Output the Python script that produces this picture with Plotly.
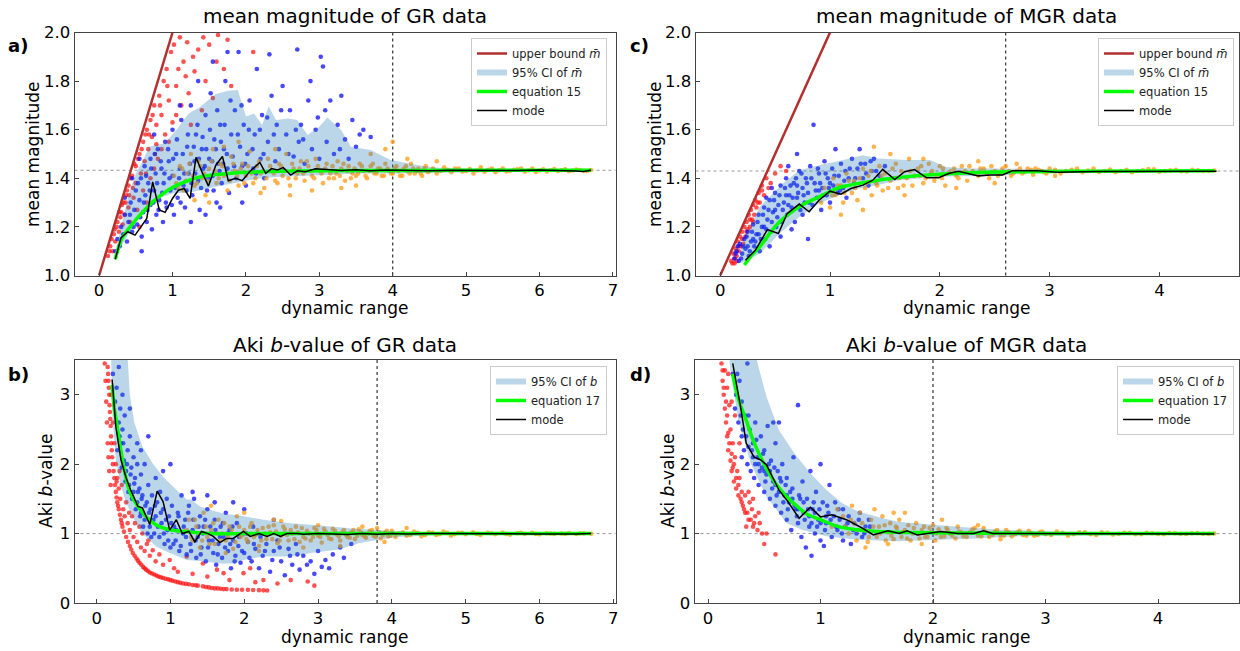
import plotly.graph_objects as go

# ---------------- data: panel a (GR, mean magnitude) ----------------
a_bound_x = [0.0, 1.0]
a_bound_y = [1.0, 2.0]
a_eq_x = [0.22, 0.26, 0.3, 0.38, 0.46, 0.54, 0.62, 0.72, 0.84, 0.97, 1.11, 1.25, 1.38, 1.52, 1.65, 1.8, 1.92, 2.2, 2.46, 3.0, 4.0, 5.0, 6.7]
a_eq_y = [1.067, 1.11, 1.145, 1.183, 1.214, 1.243, 1.269, 1.3, 1.33, 1.357, 1.378, 1.394, 1.406, 1.413, 1.417, 1.421, 1.424, 1.427, 1.429, 1.431, 1.432, 1.433, 1.433]
a_mode_x = [0.22, 0.3, 0.39, 0.49, 0.57, 0.65, 0.73, 0.82, 0.9, 1.0, 1.08, 1.16, 1.24, 1.32, 1.41, 1.49, 1.59, 1.68, 1.76, 1.86, 1.95, 2.05, 2.19, 2.27, 2.35, 2.43, 2.51, 2.61, 2.7, 2.81, 2.95, 3.1, 3.3, 3.5, 3.7, 3.9, 4.1, 4.3, 4.5, 4.8, 5.1, 5.4, 5.7, 6.0, 6.3, 6.5, 6.6, 6.7]
a_mode_y = [1.067, 1.156, 1.18, 1.166, 1.2, 1.235, 1.385, 1.27, 1.26, 1.317, 1.351, 1.358, 1.317, 1.486, 1.42, 1.368, 1.454, 1.49, 1.39, 1.4, 1.39, 1.427, 1.465, 1.42, 1.44, 1.434, 1.444, 1.413, 1.431, 1.427, 1.439, 1.436, 1.432, 1.435, 1.431, 1.434, 1.432, 1.433, 1.431, 1.433, 1.432, 1.433, 1.432, 1.434, 1.433, 1.43, 1.428, 1.433]
a_ci_up_x = [0.22, 0.3, 0.4, 0.5, 0.59, 0.68, 0.76, 0.89, 1.05, 1.22, 1.38, 1.49, 1.59, 1.76, 1.89, 2.0, 2.11, 2.22, 2.31, 2.41, 2.57, 2.7, 2.84, 3.0, 3.11, 3.3, 3.43, 3.7, 3.97, 4.35, 4.62, 5.16, 6.0, 6.7]
a_ci_up_y = [1.09, 1.2, 1.33, 1.42, 1.468, 1.53, 1.536, 1.543, 1.598, 1.667, 1.694, 1.722, 1.747, 1.76, 1.763, 1.654, 1.667, 1.619, 1.697, 1.64, 1.646, 1.64, 1.578, 1.612, 1.65, 1.598, 1.53, 1.516, 1.475, 1.454, 1.443, 1.44, 1.438, 1.437]
a_ci_lo_x = [0.22, 0.3, 0.46, 0.6, 0.73, 1.0, 1.27, 1.59, 1.92, 2.19, 2.46, 3.0, 3.54, 4.08, 4.62, 5.7, 6.7]
a_ci_lo_y = [1.063, 1.12, 1.2, 1.27, 1.31, 1.337, 1.344, 1.365, 1.385, 1.4, 1.406, 1.413, 1.42, 1.42, 1.423, 1.427, 1.43]
a_red = [(0.12,1.08),(0.15,1.12),(0.18,1.10),(0.2,1.17),(0.22,1.14),(0.25,1.22),(0.27,1.18),(0.3,1.26),(0.32,1.21),(0.33,1.30),(0.35,1.25),(0.37,1.33),(0.4,1.28),(0.4,1.37),(0.42,1.22),(0.45,1.41),(0.47,1.32),(0.5,1.45),(0.5,1.38),(0.52,1.27),(0.55,1.50),(0.57,1.42),(0.6,1.55),(0.6,1.35),(0.62,1.47),(0.65,1.60),(0.67,1.52),(0.7,1.64),(0.7,1.40),(0.72,1.57),(0.75,1.70),(0.78,1.62),(0.8,1.48),(0.82,1.74),(0.85,1.66),(0.88,1.80),(0.9,1.58),(0.92,1.85),(0.95,1.72),(0.98,1.92),(1.0,1.63),(1.02,1.95),(1.05,1.78),(1.1,1.98),(1.12,1.70),(1.15,1.88),(1.2,1.96),(1.22,1.75),(1.3,1.84),(1.35,1.93),(1.4,1.68),(1.45,1.80),(1.5,1.95),(1.55,1.73),(1.6,1.88),(1.62,1.99),(1.7,1.85),(1.75,1.97),(1.8,1.78),(2.1,1.92),(0.55,1.2),(0.65,1.3),(0.75,1.44),(0.85,1.52),(0.28,1.26),(0.38,1.35),(0.48,1.46),(0.58,1.52),(0.68,1.58),(0.78,1.54),(1.25,1.62),(0.95,1.55),(1.05,1.66),
         (0.14,1.1),(0.17,1.15),(0.21,1.19),(0.24,1.2),(0.29,1.24),(0.31,1.29),(0.36,1.3),(0.41,1.33),(0.43,1.4),(0.46,1.36),(0.53,1.48),(0.63,1.58),(0.73,1.66),(0.83,1.7),(0.93,1.78),(1.08,1.85),(1.18,1.82),(1.28,1.9),(1.42,1.98),(0.64,1.42),(0.76,1.5)]
a_blue = [(0.22,1.10),(0.25,1.15),(0.28,1.12),(0.3,1.20),(0.33,1.17),(0.35,1.25),(0.38,1.14),(0.4,1.22),(0.43,1.30),(0.45,1.18),(0.48,1.27),(0.5,1.35),(0.52,1.21),(0.55,1.31),(0.57,1.40),(0.58,1.16),(0.6,1.26),(0.62,1.45),(0.63,1.33),(0.65,1.22),(0.67,1.38),(0.7,1.29),(0.7,1.48),(0.72,1.19),(0.75,1.35),(0.77,1.42),(0.78,1.25),(0.8,1.52),(0.82,1.31),(0.85,1.44),(0.87,1.22),(0.88,1.38),(0.9,1.55),(0.92,1.28),(0.95,1.47),(0.97,1.35),(1.0,1.41),(1.0,1.60),(1.02,1.25),(1.05,1.50),(1.07,1.32),(1.1,1.44),(1.12,1.64),(1.15,1.37),(1.17,1.28),(1.2,1.53),(1.22,1.42),(1.25,1.70),(1.27,1.33),(1.3,1.47),(1.32,1.58),(1.35,1.39),(1.37,1.27),(1.4,1.52),(1.42,1.44),(1.45,1.66),(1.47,1.35),(1.5,1.48),(1.52,1.75),(1.55,1.41),(1.57,1.56),(1.6,1.30),(1.62,1.46),(1.65,1.62),(1.67,1.38),(1.7,1.52),(1.72,1.80),(1.75,1.44),(1.77,1.34),(1.8,1.58),(1.82,1.49),(1.85,1.68),(1.87,1.40),(1.9,1.92),(1.92,1.53),(1.95,1.45),(1.97,1.62),(2.0,1.37),(2.02,1.50),(2.05,1.72),(2.1,1.44),(2.12,1.58),(2.15,1.85),(2.2,1.48),(2.22,1.66),(2.25,1.40),(2.3,1.55),(2.32,1.91),(2.35,1.74),(2.4,1.47),(2.42,1.62),(2.45,1.52),(2.5,1.78),(2.52,1.43),(2.55,1.58),(2.6,1.68),(2.65,1.49),(2.7,1.93),(2.72,1.55),(2.75,1.62),(2.8,1.46),(2.85,1.72),(2.9,1.52),(2.95,1.60),(3.0,1.48),(3.02,1.90),(3.05,1.86),(3.08,1.68),(3.1,1.55),(3.15,1.72),(3.2,1.50),(3.25,1.62),(3.3,1.74),(3.35,1.56),(3.4,1.48),(3.45,1.64),(3.5,1.53),(3.6,1.60),(3.7,1.57),(1.35,1.80),(1.55,1.88),(1.75,1.92),(0.45,1.40),(0.55,1.48),(0.35,1.32),(1.1,1.70),(0.75,1.58),(1.95,1.30),(1.25,1.22),(1.45,1.25),(1.65,1.28),(0.58,1.10),
          (0.42,1.25),(0.47,1.2),(0.53,1.38),(0.56,1.24),(0.61,1.3),(0.64,1.41),(0.66,1.27),(0.69,1.35),(0.71,1.44),(0.74,1.3),(0.76,1.5),(0.79,1.38),(0.81,1.27),(0.84,1.47),(0.86,1.34),(0.89,1.42),(0.91,1.3),(0.94,1.52),(0.96,1.4),(0.99,1.29),(1.01,1.48),(1.04,1.36),(1.06,1.56),(1.09,1.4),(1.11,1.3),(1.14,1.5),(1.16,1.42),(1.19,1.35),(1.21,1.58),(1.24,1.46),(1.26,1.38),(1.29,1.53),(1.31,1.42),(1.34,1.62),(1.36,1.48),(1.39,1.36),(1.41,1.57),(1.44,1.45),(1.46,1.52),(1.49,1.4),(1.51,1.6),(1.54,1.47),(1.56,1.35),(1.59,1.52),(1.61,1.68),(1.64,1.43),(1.66,1.55),(1.69,1.46),(1.71,1.62),(1.74,1.5),(1.79,1.72),(1.84,1.45),(1.89,1.58),(1.94,1.7),(1.99,1.46),(2.04,1.6),(2.09,1.52),(2.14,1.42),(2.19,1.6),(2.24,1.5),(2.29,1.65),(2.38,1.58),(2.48,1.68),(2.58,1.5),(2.68,1.6),(2.78,1.56),(2.88,1.8),(2.98,1.65),(3.28,1.52),(3.55,1.58)]
a_orange = [(1.05,1.38),(1.1,1.45),(1.15,1.35),(1.2,1.42),(1.25,1.50),(1.3,1.37),(1.35,1.47),(1.4,1.40),(1.45,1.33),(1.5,1.44),(1.55,1.52),(1.6,1.38),(1.65,1.46),(1.7,1.41),(1.75,1.35),(1.8,1.49),(1.85,1.43),(1.9,1.37),(1.95,1.46),(2.0,1.41),(2.05,1.51),(2.1,1.38),(2.15,1.45),(2.2,1.42),(2.25,1.36),(2.3,1.48),(2.35,1.43),(2.4,1.39),(2.45,1.46),(2.5,1.41),(2.55,1.50),(2.6,1.37),(2.65,1.44),(2.7,1.42),(2.75,1.47),(2.8,1.39),(2.85,1.45),(2.9,1.41),(2.95,1.48),(3.0,1.43),(3.05,1.38),(3.1,1.46),(3.15,1.42),(3.2,1.40),(3.25,1.47),(3.3,1.44),(3.35,1.39),(3.4,1.45),(3.45,1.42),(3.5,1.41),(3.55,1.46),(3.6,1.43),(3.65,1.40),(3.7,1.45),(3.75,1.42),(3.8,1.44),(3.85,1.41),(3.9,1.46),(3.95,1.43),(4.0,1.55),(4.0,1.42),(4.05,1.45),(4.1,1.41),(4.15,1.44),(4.2,1.43),(4.25,1.46),(4.3,1.42),(4.35,1.44),(4.4,1.41),(4.45,1.45),(4.5,1.43),(4.6,1.42),(4.7,1.445),(4.8,1.425),(4.9,1.44),(5.0,1.43),(5.1,1.42),(5.2,1.445),(5.3,1.435),(5.4,1.425),(5.5,1.44),(5.6,1.43),(5.7,1.437),(5.8,1.427),(5.9,1.44),(6.0,1.432),(6.1,1.428),(6.2,1.438),(6.3,1.433),(6.4,1.429),(6.5,1.436),(6.6,1.431),(6.7,1.434),(1.7,1.53),(2.2,1.34),(2.6,1.33),(3.3,1.36),(3.7,1.50),(3.9,1.52),(1.3,1.31),(1.9,1.55),(4.2,1.48),(4.6,1.47),(2.9,1.35),(3.5,1.37),(2.4,1.52),(1.5,1.30),
            (1.02,1.41),(1.08,1.36),(1.13,1.44),(1.18,1.39),(1.23,1.46),(1.28,1.41),(1.33,1.38),(1.38,1.45),(1.43,1.42),(1.48,1.39),(1.53,1.47),(1.58,1.43),(1.63,1.40),(1.68,1.45),(1.73,1.42),(1.78,1.39),(1.83,1.46),(1.88,1.41),(1.93,1.44),(1.98,1.38),(2.03,1.45),(2.08,1.42),(2.13,1.40),(2.18,1.47),(2.23,1.43),(2.28,1.40),(2.33,1.45),(2.38,1.42),(2.43,1.38),(2.48,1.45),(2.53,1.43),(2.58,1.40),(2.63,1.46),(2.68,1.40),(2.73,1.44),(2.78,1.42),(2.83,1.47),(2.88,1.43),(2.93,1.40),(2.98,1.45),(3.03,1.42),(3.08,1.44),(3.13,1.40),(3.18,1.45),(3.23,1.42),(3.28,1.41),(3.33,1.46),(3.38,1.43),(3.43,1.40),(3.48,1.44),(3.53,1.42),(3.58,1.45),(3.63,1.41),(3.68,1.43),(3.73,1.46),(3.78,1.42),(3.83,1.44),(3.88,1.41),(3.93,1.44),(3.98,1.42),(4.03,1.44),(4.08,1.43),(4.13,1.41),(4.18,1.45),(4.23,1.42),(4.28,1.44),(4.33,1.43),(4.38,1.42),(4.43,1.44),(4.48,1.425),(4.55,1.44),(4.65,1.43),(4.75,1.435),(4.85,1.44),(4.95,1.428),(5.05,1.438),(5.15,1.432),(5.25,1.427),(5.35,1.44),(5.45,1.433),(5.55,1.428),(5.65,1.435),(5.75,1.44),(5.85,1.432),(5.95,1.426),(6.05,1.437),(6.15,1.433),(6.25,1.43),(6.35,1.437),(6.45,1.432),(6.55,1.434),(6.65,1.43)]

# ---------------- data: panel b (GR, Aki b-value) ----------------
b_eq_x = [0.21, 0.24, 0.28, 0.35, 0.44, 0.56, 0.69, 0.85, 1.08, 1.3, 1.54, 2.0, 3.0, 4.0, 5.0, 6.7]
b_eq_y = [3.14, 2.8, 2.54, 2.06, 1.63, 1.39, 1.22, 1.1, 1.04, 1.02, 1.0, 1.0, 1.0, 1.0, 1.0, 1.0]
b_mode_x = [0.21, 0.26, 0.33, 0.4, 0.46, 0.56, 0.62, 0.72, 0.82, 0.9, 0.99, 1.08, 1.16, 1.25, 1.33, 1.42, 1.51, 1.58, 1.67, 1.76, 1.85, 1.99, 2.08, 2.2, 2.31, 2.4, 2.49, 2.58, 2.72, 2.8, 3.0, 3.2, 3.4, 3.6, 3.8, 4.0, 4.2, 4.5, 5.0, 5.5, 6.0, 6.5, 6.7]
b_mode_y = [3.22, 2.54, 2.06, 1.8, 1.63, 1.39, 1.37, 1.13, 1.61, 1.46, 1.05, 1.2, 1.0, 1.03, 0.88, 1.03, 1.0, 0.96, 0.87, 0.93, 0.93, 1.03, 0.96, 1.0, 0.96, 1.0, 0.96, 1.0, 1.0, 0.99, 1.0, 0.99, 0.985, 1.0, 0.99, 1.0, 0.995, 1.0, 0.995, 1.0, 0.995, 0.995, 1.0]
b_ci_up_x = [0.19, 0.4, 0.45, 0.51, 0.62, 0.76, 0.9, 1.03, 1.13, 1.22, 1.28, 1.4, 1.54, 1.72, 1.99, 2.26, 2.63, 2.99, 3.5, 4.0, 4.5, 5.0, 6.7]
b_ci_up_y = [3.9, 3.9, 3.0, 2.6, 2.25, 2.01, 1.82, 1.68, 1.58, 1.49, 1.49, 1.39, 1.34, 1.29, 1.25, 1.2, 1.15, 1.12, 1.07, 1.04, 1.02, 1.01, 1.005]
b_ci_lo_x = [0.19, 0.21, 0.26, 0.33, 0.4, 0.51, 0.62, 0.81, 0.99, 1.22, 1.44, 1.67, 1.85, 1.99, 2.26, 2.63, 2.9, 3.28, 3.55, 3.82, 4.09, 4.63, 6.7]
b_ci_lo_y = [3.9, 2.78, 2.06, 1.68, 1.44, 1.2, 1.0, 0.81, 0.72, 0.62, 0.6, 0.57, 0.57, 0.62, 0.67, 0.67, 0.72, 0.77, 0.86, 0.91, 0.95, 0.98, 0.995]
b_red = [(0.15,3.4),(0.16,3.2),(0.17,3.0),(0.18,2.75),(0.19,2.55),(0.2,2.3),(0.21,2.1),(0.23,1.9),(0.24,1.8),(0.26,1.6),(0.28,1.45),(0.3,1.35),(0.33,1.2),(0.35,1.1),(0.4,0.95),(0.45,0.82),(0.49,0.72),(0.54,0.64),(0.58,0.58),(0.63,0.52),(0.67,0.48),(0.72,0.44),(0.78,0.41),(0.84,0.38),(0.9,0.36),(0.97,0.34),(1.03,0.32),(1.1,0.3),(1.17,0.28),(1.25,0.27),(1.3,0.26),(1.37,0.25),(1.44,0.24),(1.52,0.225),(1.6,0.21),(1.68,0.205),(1.76,0.2),(1.9,0.19),(2.05,0.19),(2.2,0.185),(2.31,0.18),(0.11,3.45),(0.12,3.2),(0.13,2.9),(0.14,2.6),(0.15,2.3),(0.16,2.1),(0.17,1.9),(0.19,1.7),(0.2,3.0),(0.22,2.6),(0.24,2.3),(0.26,2.0),(0.28,1.8),(0.3,1.65),(0.32,1.5),(0.34,1.7),(0.36,1.35),(0.38,1.25),(0.4,1.45),(0.42,1.15),(0.45,1.05),(0.48,1.25),(0.5,0.95),(0.55,0.88),(0.58,1.1),(0.6,0.8),(0.65,0.75),(0.7,0.9),(0.72,0.68),(0.76,0.76),(0.8,0.6),(0.85,0.7),(0.9,0.55),(0.99,0.62),(1.05,0.5),(1.1,0.45),(1.22,0.67),(1.3,0.42),(1.44,0.57),(1.5,0.38),(1.63,0.48),(1.72,0.43),(1.8,0.33),(1.99,0.43),(2.08,0.5),(2.15,0.3),(2.26,0.33),(2.45,0.28),(2.63,0.33),(2.86,0.31),(2.95,0.25),(0.27,1.75),(0.31,1.9),(0.44,1.3),(0.52,1.15),(0.62,1.0),(0.68,0.85),
         (0.155,3.3),(0.165,3.1),(0.175,2.85),(0.185,2.65),(0.195,2.4),(0.205,2.2),(0.22,2.0),(0.25,1.7),(0.27,1.52),(0.29,1.4),(0.315,1.27),(0.34,1.15),(0.37,1.03),(0.425,0.88),(0.47,0.77),(0.515,0.68),(0.56,0.61),(0.605,0.55),(0.65,0.5),(0.695,0.46),(0.75,0.425),(0.81,0.395),(0.87,0.37),(0.935,0.35),(1.0,0.33),(1.065,0.31),(1.135,0.29),(1.21,0.275),(1.34,0.255),(1.48,0.23),(1.56,0.215),(1.64,0.21),(1.72,0.2),(1.83,0.195),(1.97,0.19),(2.12,0.188),(2.26,0.182)]
b_blue = [(0.22,3.3),(0.25,2.9),(0.27,3.1),(0.3,2.6),(0.32,2.8),(0.33,2.3),(0.35,2.5),(0.37,2.05),(0.38,2.7),(0.4,1.9),(0.42,2.2),(0.44,1.7),(0.45,2.4),(0.47,1.95),(0.5,1.6),(0.5,2.1),(0.52,1.8),(0.55,1.45),(0.55,2.0),(0.58,1.65),(0.6,1.3),(0.6,1.85),(0.62,1.55),(0.65,1.2),(0.65,2.0),(0.68,1.45),(0.7,1.7),(0.72,1.1),(0.73,1.35),(0.75,1.55),(0.78,1.0),(0.8,1.25),(0.8,1.8),(0.82,1.45),(0.85,0.95),(0.86,1.6),(0.88,1.15),(0.9,1.35),(0.92,0.85),(0.95,1.5),(0.96,1.05),(0.98,1.25),(1.0,2.0),(1.0,0.8),(1.02,1.4),(1.05,1.1),(1.07,0.9),(1.1,1.3),(1.12,0.75),(1.15,1.55),(1.17,1.0),(1.2,1.2),(1.22,0.7),(1.25,1.4),(1.27,0.85),(1.3,1.05),(1.32,1.5),(1.35,0.65),(1.37,0.95),(1.4,1.25),(1.42,0.8),(1.45,1.1),(1.48,0.6),(1.5,1.35),(1.52,0.9),(1.55,1.0),(1.58,0.72),(1.6,1.2),(1.62,0.55),(1.65,0.85),(1.68,1.1),(1.7,0.65),(1.72,0.95),(1.75,1.3),(1.78,0.75),(1.8,1.05),(1.82,0.5),(1.85,0.9),(1.88,0.68),(1.9,1.15),(1.92,0.82),(1.95,0.58),(1.98,1.0),(2.0,0.72),(2.05,0.88),(2.1,0.6),(2.12,1.1),(2.15,0.78),(2.2,0.5),(2.22,0.95),(2.25,0.68),(2.3,0.85),(2.35,0.45),(2.4,0.75),(2.45,0.9),(2.5,0.6),(2.55,0.4),(2.6,0.78),(2.65,0.55),(2.7,0.85),(2.75,0.48),(2.8,0.68),(2.9,0.6),(2.95,0.42),(3.0,0.75),(3.05,0.52),(3.1,0.62),(3.2,0.7),(3.3,0.8),(3.45,0.85),(1.3,1.6),(1.5,1.55),(1.6,1.45),(0.9,1.9),(0.7,2.4),(0.45,2.8),(0.35,3.0),(0.55,2.3),(0.3,3.4),(2.0,1.35),(1.85,1.45),(2.4,1.2),(0.6,2.2),
          (0.28,2.2),(0.31,2.4),(0.34,1.95),(0.36,2.3),(0.39,1.75),(0.41,2.0),(0.43,1.6),(0.46,1.85),(0.48,1.5),(0.51,1.72),(0.53,1.35),(0.56,1.6),(0.59,1.25),(0.61,1.5),(0.63,1.1),(0.66,1.4),(0.69,1.0),(0.71,1.3),(0.74,0.95),(0.77,1.2),(0.79,1.4),(0.83,1.1),(0.87,1.3),(0.91,1.0),(0.94,1.2),(0.97,0.9),(1.01,1.15),(1.04,0.85),(1.08,1.05),(1.11,1.25),(1.14,0.82),(1.18,1.1),(1.21,0.95),(1.24,1.3),(1.28,0.75),(1.31,1.2),(1.34,0.9),(1.38,1.1),(1.41,0.7),(1.44,1.0),(1.47,1.2),(1.51,0.8),(1.54,1.1),(1.57,0.9),(1.61,1.05),(1.64,0.7),(1.67,0.95),(1.71,1.15),(1.74,0.8),(1.77,1.0),(1.81,0.85),(1.84,1.1),(1.87,0.6),(1.93,0.95),(1.97,0.75),(2.03,1.0),(2.07,0.65),(2.13,0.85),(2.18,1.0),(2.28,0.75),(2.38,0.62),(2.48,0.8),(2.62,0.68),(2.72,0.7),(2.85,0.55),(3.15,0.5),(3.35,0.65)]
b_orange = [(1.25,1.2),(1.3,0.9),(1.35,1.1),(1.4,0.8),(1.45,1.3),(1.5,0.95),(1.55,1.05),(1.6,0.85),(1.65,1.2),(1.7,1.0),(1.75,0.9),(1.8,1.1),(1.85,0.78),(1.9,1.25),(1.95,0.95),(2.0,1.05),(2.05,0.88),(2.1,1.15),(2.15,0.98),(2.2,0.82),(2.25,1.08),(2.3,0.92),(2.35,1.02),(2.4,1.12),(2.45,0.86),(2.5,0.97),(2.55,1.06),(2.6,0.9),(2.65,1.0),(2.7,1.1),(2.75,0.88),(2.8,0.95),(2.85,1.04),(2.9,0.9),(2.95,1.08),(3.0,0.97),(3.05,0.87),(3.1,1.03),(3.15,0.93),(3.2,1.07),(3.25,0.99),(3.3,0.9),(3.35,1.05),(3.4,0.95),(3.45,1.02),(3.5,0.92),(3.55,1.06),(3.6,0.98),(3.65,0.94),(3.7,1.04),(3.75,0.97),(3.8,1.08),(3.85,0.93),(3.9,1.01),(3.95,0.96),(4.0,1.04),(4.05,0.95),(4.1,1.0),(4.2,0.97),(4.3,1.03),(4.4,0.96),(4.5,1.02),(4.6,0.98),(4.7,1.03),(4.8,0.97),(4.9,1.01),(5.0,0.99),(5.1,1.02),(5.2,0.98),(5.3,1.01),(5.4,0.99),(5.5,1.015),(5.6,0.985),(5.7,1.005),(5.8,0.995),(5.9,1.01),(6.0,0.99),(6.1,1.005),(6.2,0.995),(6.3,1.0),(6.4,1.008),(6.5,0.993),(6.6,1.003),(6.7,0.998),(1.55,1.4),(2.0,1.3),(2.5,1.18),(3.0,1.12),(3.6,1.1),(4.2,1.08),(2.2,0.75),(2.8,0.8),(3.3,0.82),(3.9,0.88),(1.75,0.72),(2.4,1.2),
            (1.22,1.05),(1.28,0.95),(1.33,1.2),(1.38,1.0),(1.43,0.9),(1.48,1.1),(1.53,0.85),(1.58,1.15),(1.63,1.0),(1.68,0.9),(1.73,1.15),(1.78,0.95),(1.83,1.05),(1.88,0.88),(1.93,1.1),(1.98,0.98),(2.03,0.92),(2.08,1.1),(2.13,0.95),(2.18,1.05),(2.23,0.9),(2.28,1.0),(2.33,1.1),(2.38,0.92),(2.43,1.03),(2.48,0.9),(2.53,1.1),(2.58,0.98),(2.63,1.05),(2.68,0.92),(2.73,1.02),(2.78,1.08),(2.83,0.93),(2.88,1.0),(2.93,0.95),(2.98,1.05),(3.03,0.95),(3.08,1.07),(3.13,0.98),(3.18,0.92),(3.23,1.04),(3.28,0.96),(3.33,1.02),(3.38,0.98),(3.43,0.94),(3.48,1.05),(3.53,0.97),(3.58,1.02),(3.63,0.96),(3.68,1.0),(3.73,1.05),(3.78,0.95),(3.83,1.02),(3.88,0.98),(3.93,1.04),(3.98,0.97),(4.15,1.02),(4.25,0.98),(4.35,1.01),(4.45,0.98),(4.55,1.01),(4.65,0.99),(4.75,1.01),(4.85,0.99),(4.95,1.01),(5.15,0.995),(5.35,1.005),(5.55,0.995),(5.75,1.01),(5.95,0.995),(6.15,1.0),(6.35,0.995),(6.55,1.005)]

# ---------------- data: panel c (MGR, mean magnitude) ----------------
c_bound_x = [0.0, 1.0]
c_bound_y = [1.0, 2.0]
c_eq_x = [0.22, 0.28, 0.36, 0.45, 0.54, 0.63, 0.72, 0.81, 0.9, 1.0, 1.08, 1.17, 1.26, 1.44, 1.62, 1.8, 1.99, 2.35, 2.71, 3.2, 4.5]
c_eq_y = [1.043, 1.08, 1.118, 1.172, 1.221, 1.255, 1.283, 1.305, 1.324, 1.345, 1.361, 1.371, 1.379, 1.392, 1.403, 1.411, 1.417, 1.424, 1.427, 1.429, 1.431]
c_mode_x = [0.23, 0.32, 0.43, 0.53, 0.61, 0.72, 0.81, 0.9, 1.0, 1.1, 1.19, 1.3, 1.39, 1.48, 1.59, 1.68, 1.77, 1.88, 1.99, 2.08, 2.17, 2.24, 2.35, 2.46, 2.57, 2.66, 2.89, 3.07, 3.43, 4.52]
c_mode_y = [1.063, 1.104, 1.189, 1.173, 1.255, 1.294, 1.262, 1.31, 1.347, 1.335, 1.358, 1.372, 1.392, 1.437, 1.395, 1.427, 1.436, 1.402, 1.402, 1.42, 1.429, 1.422, 1.41, 1.414, 1.414, 1.431, 1.431, 1.425, 1.428, 1.429]
c_ci_up_x = [0.19, 0.36, 0.57, 0.72, 0.9, 1.12, 1.3, 1.44, 1.7, 1.91, 2.06, 2.28, 2.57, 2.89, 3.43, 4.52]
c_ci_up_y = [1.118, 1.283, 1.379, 1.433, 1.454, 1.475, 1.495, 1.481, 1.475, 1.475, 1.447, 1.44, 1.44, 1.438, 1.433, 1.432]
c_ci_lo_x = [0.19, 0.36, 0.54, 0.72, 0.9, 1.08, 1.26, 1.44, 1.62, 1.99, 2.35, 2.57, 2.71, 3.07, 3.8, 4.52]
c_ci_lo_y = [1.05, 1.09, 1.173, 1.241, 1.296, 1.33, 1.358, 1.372, 1.392, 1.406, 1.409, 1.409, 1.42, 1.423, 1.425, 1.428]
c_red = [(0.1,1.06),(0.12,1.09),(0.13,1.05),(0.14,1.11),(0.15,1.08),(0.16,1.14),(0.17,1.1),(0.18,1.16),(0.19,1.12),(0.2,1.18),(0.21,1.13),(0.22,1.2),(0.23,1.16),(0.24,1.22),(0.25,1.19),(0.26,1.25),(0.27,1.2),(0.28,1.27),(0.29,1.23),(0.3,1.29),(0.31,1.25),(0.32,1.31),(0.33,1.28),(0.35,1.34),(0.36,1.3),(0.38,1.37),(0.4,1.33),(0.42,1.4),(0.44,1.36),(0.46,1.38),(0.5,1.42),(0.55,1.45),(0.6,1.43),(0.13,1.07),(0.17,1.12),(0.2,1.15),(0.24,1.18),(0.27,1.23),(0.3,1.22),(0.11,1.05),(0.15,1.06),(0.34,1.3),(0.38,1.35)]
c_blue = [(0.13,1.07),(0.15,1.1),(0.17,1.06),(0.18,1.13),(0.2,1.09),(0.22,1.15),(0.23,1.11),(0.25,1.18),(0.26,1.08),(0.28,1.14),(0.3,1.21),(0.31,1.12),(0.33,1.17),(0.35,1.25),(0.36,1.1),(0.38,1.2),(0.4,1.28),(0.41,1.15),(0.43,1.23),(0.45,1.31),(0.46,1.18),(0.48,1.26),(0.5,1.34),(0.51,1.2),(0.53,1.29),(0.55,1.37),(0.56,1.22),(0.58,1.3),(0.6,1.4),(0.61,1.25),(0.63,1.33),(0.65,1.28),(0.67,1.38),(0.68,1.22),(0.7,1.32),(0.72,1.43),(0.73,1.27),(0.75,1.36),(0.77,1.3),(0.78,1.4),(0.8,1.15),(0.8,1.34),(0.82,1.45),(0.84,1.29),(0.85,1.62),(0.86,1.38),(0.88,1.32),(0.9,1.42),(0.92,1.27),(0.93,1.36),(0.95,1.47),(0.97,1.33),(0.98,1.4),(1.0,1.3),(1.02,1.44),(1.03,1.37),(1.05,1.52),(1.07,1.34),(1.08,1.41),(1.1,1.46),(1.12,1.36),(1.14,1.43),(1.15,1.32),(1.17,1.4),(1.2,1.48),(1.22,1.38),(1.25,1.44),(1.27,1.52),(1.3,1.4),(1.32,1.46),(1.35,1.37),(1.38,1.43),(1.4,1.48),(1.45,1.41),(1.5,1.45),(0.3,1.15),(0.4,1.2),(0.5,1.27),(0.6,1.33),(0.7,1.37),(0.55,1.16),(0.65,1.19),(0.45,1.12),(0.35,1.17),(0.25,1.12),(0.75,1.25),(0.9,1.35),(1.0,1.38),(0.62,1.45),(0.7,1.5),(0.47,1.36),(0.42,1.32),
          (0.14,1.09),(0.16,1.12),(0.19,1.07),(0.21,1.12),(0.24,1.16),(0.27,1.1),(0.29,1.18),(0.32,1.14),(0.34,1.22),(0.37,1.15),(0.39,1.25),(0.42,1.19),(0.44,1.27),(0.47,1.22),(0.49,1.31),(0.52,1.24),(0.54,1.33),(0.57,1.27),(0.59,1.36),(0.62,1.29),(0.64,1.37),(0.66,1.32),(0.69,1.4),(0.71,1.34),(0.74,1.42),(0.76,1.33),(0.79,1.38),(0.81,1.3),(0.83,1.4),(0.87,1.35),(0.89,1.44),(0.91,1.38),(0.94,1.33),(0.96,1.42),(0.99,1.36),(1.04,1.41),(1.09,1.35),(1.13,1.39),(1.18,1.44),(1.23,1.4),(1.28,1.46),(1.33,1.42),(1.37,1.47),(1.42,1.43)]
c_orange = [(0.92,1.3),(0.95,1.36),(1.0,1.28),(1.03,1.4),(1.05,1.33),(1.1,1.37),(1.12,1.3),(1.15,1.42),(1.2,1.34),(1.22,1.39),(1.25,1.31),(1.3,1.44),(1.32,1.36),(1.35,1.41),(1.38,1.33),(1.4,1.53),(1.42,1.38),(1.45,1.45),(1.48,1.35),(1.5,1.42),(1.55,1.39),(1.6,1.46),(1.62,1.36),(1.65,1.43),(1.7,1.4),(1.72,1.48),(1.75,1.37),(1.8,1.44),(1.82,1.41),(1.85,1.38),(1.9,1.46),(1.92,1.42),(1.95,1.39),(2.0,1.45),(2.02,1.4),(2.05,1.37),(2.1,1.43),(2.15,1.41),(2.2,1.45),(2.25,1.39),(2.3,1.43),(2.35,1.41),(2.4,1.44),(2.45,1.4),(2.5,1.43),(2.55,1.42),(2.6,1.45),(2.65,1.41),(2.7,1.43),(2.75,1.42),(2.8,1.44),(2.85,1.415),(2.9,1.435),(2.95,1.425),(3.0,1.44),(3.1,1.42),(3.2,1.435),(3.3,1.425),(3.4,1.44),(3.5,1.43),(3.6,1.425),(3.7,1.435),(3.8,1.43),(3.9,1.438),(4.0,1.427),(4.1,1.433),(4.2,1.429),(4.3,1.435),(4.4,1.43),(4.5,1.432),(1.85,1.48),(2.15,1.36),(2.5,1.38),(1.55,1.5),(1.3,1.27),(2.7,1.46),(3.05,1.41),(1.68,1.33),(2.35,1.47),(1.1,1.25),
            (1.02,1.33),(1.07,1.37),(1.13,1.34),(1.17,1.39),(1.23,1.36),(1.27,1.4),(1.33,1.38),(1.37,1.43),(1.43,1.37),(1.47,1.41),(1.53,1.36),(1.57,1.44),(1.63,1.4),(1.67,1.37),(1.73,1.43),(1.77,1.41),(1.83,1.45),(1.87,1.4),(1.93,1.43),(1.97,1.41),(2.03,1.44),(2.07,1.42),(2.13,1.44),(2.17,1.4),(2.23,1.43),(2.27,1.45),(2.33,1.42),(2.37,1.44),(2.43,1.42),(2.47,1.45),(2.53,1.41),(2.57,1.44),(2.63,1.43),(2.67,1.42),(2.73,1.44),(2.77,1.425),(2.83,1.435),(2.87,1.44),(2.93,1.43),(2.97,1.42),(3.05,1.435),(3.15,1.43),(3.25,1.44),(3.35,1.432),(3.45,1.426),(3.55,1.436),(3.65,1.43),(3.75,1.425),(3.85,1.433),(3.95,1.437),(4.05,1.43),(4.15,1.435),(4.25,1.428),(4.35,1.433),(4.45,1.43)]

# ---------------- data: panel d (MGR, Aki b-value) ----------------
d_eq_x = [0.22, 0.26, 0.3, 0.34, 0.4, 0.48, 0.55, 0.62, 0.7, 0.8, 0.87, 1.0, 1.16, 1.3, 1.51, 1.8, 2.2, 3.0, 4.5]
d_eq_y = [3.3, 3.0, 2.8, 2.63, 2.35, 2.06, 1.85, 1.68, 1.53, 1.38, 1.29, 1.2, 1.1, 1.06, 1.03, 1.015, 1.007, 1.002, 1.0]
d_mode_x = [0.22, 0.29, 0.34, 0.41, 0.47, 0.52, 0.63, 0.71, 0.81, 0.91, 1.0, 1.1, 1.23, 1.37, 1.47, 1.6, 1.7, 1.77, 1.86, 2.0, 2.07, 2.22, 2.36, 2.45, 2.53, 2.7, 3.0, 3.2, 3.5, 4.0, 4.5]
d_mode_y = [3.45, 2.82, 2.3, 2.1, 2.06, 1.99, 1.63, 1.46, 1.22, 1.38, 1.24, 1.27, 1.2, 1.08, 0.98, 1.04, 1.0, 1.04, 0.98, 1.02, 1.03, 1.0, 1.0, 1.04, 1.0, 1.0, 1.0, 1.005, 1.0, 1.0, 0.995]
d_ci_up_x = [0.18, 0.4, 0.52, 0.63, 0.77, 0.91, 1.05, 1.19, 1.33, 1.51, 1.69, 1.9, 2.22, 2.57, 3.1, 4.51]
d_ci_up_y = [3.7, 3.7, 2.97, 2.49, 2.15, 1.87, 1.63, 1.44, 1.32, 1.24, 1.17, 1.14, 1.1, 1.06, 1.03, 1.01]
d_ci_lo_x = [0.18, 0.2, 0.27, 0.38, 0.52, 0.7, 0.84, 1.05, 1.33, 1.69, 2.04, 2.39, 2.75, 3.1, 4.51]
d_ci_lo_y = [3.7, 3.35, 2.63, 2.01, 1.53, 1.15, 1.05, 0.96, 0.91, 0.89, 0.91, 0.93, 0.96, 0.97, 0.99]
d_red = [(0.12,3.45),(0.13,3.2),(0.14,3.0),(0.15,3.35),(0.15,2.8),(0.16,2.6),(0.17,3.1),(0.17,2.4),(0.18,2.2),(0.19,2.85),(0.2,2.05),(0.2,2.5),(0.21,1.9),(0.22,2.3),(0.23,1.75),(0.24,2.1),(0.25,1.65),(0.26,1.9),(0.27,1.55),(0.28,1.8),(0.3,1.45),(0.3,1.6),(0.32,1.35),(0.33,1.55),(0.35,1.3),(0.37,1.45),(0.38,1.2),(0.4,1.1),(0.42,1.25),(0.44,1.05),(0.46,1.15),(0.5,0.85),(0.52,1.0),(0.6,0.7),(0.36,1.6),(0.4,1.5),(0.24,2.7),(0.28,2.3),(0.18,3.3),(0.21,2.9),(0.34,1.1),(0.45,1.3),
         (0.13,3.35),(0.14,3.1),(0.16,2.9),(0.17,2.7),(0.18,2.45),(0.19,2.3),(0.21,2.15),(0.22,1.95),(0.23,2.0),(0.25,1.8),(0.27,1.7),(0.29,1.5),(0.31,1.4),(0.33,1.3),(0.36,1.2),(0.39,1.35),(0.41,1.15),(0.48,1.0)]
d_blue = [(0.22,3.3),(0.25,3.0),(0.27,2.6),(0.28,3.2),(0.3,2.4),(0.3,2.9),(0.32,2.2),(0.33,2.7),(0.35,2.0),(0.35,3.45),(0.37,2.5),(0.38,1.9),(0.4,2.3),(0.41,1.8),(0.42,2.6),(0.44,2.1),(0.45,1.7),(0.47,2.4),(0.48,1.95),(0.5,1.6),(0.5,2.2),(0.52,1.85),(0.53,2.55),(0.55,1.5),(0.56,2.05),(0.58,1.75),(0.6,1.4),(0.6,2.3),(0.62,1.9),(0.63,1.6),(0.65,1.3),(0.66,2.0),(0.68,1.55),(0.7,1.2),(0.7,1.8),(0.72,1.45),(0.74,1.05),(0.75,1.65),(0.76,2.1),(0.78,1.35),(0.8,1.15),(0.8,2.85),(0.81,1.55),(0.83,0.95),(0.84,1.75),(0.85,1.3),(0.87,0.8),(0.88,1.5),(0.9,1.1),(0.91,1.9),(0.92,0.68),(0.93,1.35),(0.95,1.0),(0.96,1.6),(0.98,1.2),(1.0,0.9),(1.0,2.0),(1.02,1.45),(1.03,0.82),(1.05,1.15),(1.07,1.3),(1.08,1.7),(1.1,0.95),(1.12,1.25),(1.13,1.45),(1.15,1.05),(1.17,1.2),(1.2,0.9),(1.2,1.35),(1.22,1.1),(1.25,1.25),(1.27,0.85),(1.3,1.15),(1.32,1.0),(1.35,1.3),(1.37,0.95),(1.4,1.1),(1.43,1.2),(0.45,2.0),(0.55,1.9),(0.65,1.75),(0.75,1.5),(0.85,1.45),(0.95,1.3),(1.05,1.25),(0.4,2.1),(0.5,1.9),(0.6,1.7),(0.7,1.55),(0.8,1.35),(0.9,1.25),(1.0,1.15),(0.58,2.6),(0.63,2.6),(0.3,2.1),(0.36,2.25),
          (0.24,2.8),(0.26,3.3),(0.29,2.7),(0.31,2.5),(0.34,2.4),(0.36,2.7),(0.39,2.2),(0.42,2.0),(0.43,2.35),(0.46,1.9),(0.49,2.15),(0.51,1.75),(0.54,2.0),(0.57,1.65),(0.59,1.95),(0.61,1.55),(0.64,1.8),(0.67,1.45),(0.69,1.7),(0.71,1.35),(0.73,1.6),(0.77,1.4),(0.79,1.25),(0.82,1.5),(0.86,1.2),(0.89,1.35),(0.92,1.15),(0.94,1.45),(0.97,1.1),(0.99,1.35),(1.04,1.05),(1.06,1.4),(1.09,1.2),(1.14,1.1),(1.16,1.35),(1.19,1.0),(1.24,1.15),(1.29,1.05),(1.34,1.2),(1.39,1.0),(1.44,1.1)]
d_orange = [(1.2,1.25),(1.25,1.0),(1.3,1.15),(1.32,0.9),(1.35,1.3),(1.4,1.05),(1.42,0.88),(1.45,1.2),(1.5,0.95),(1.52,1.1),(1.55,1.25),(1.58,0.9),(1.6,1.02),(1.62,1.15),(1.65,0.92),(1.68,1.08),(1.7,1.2),(1.72,0.95),(1.75,1.05),(1.78,1.12),(1.8,0.9),(1.82,1.0),(1.85,1.15),(1.88,0.93),(1.9,1.05),(1.92,1.1),(1.95,0.95),(1.98,1.02),(2.0,1.12),(2.02,0.9),(2.05,1.06),(2.1,0.96),(2.12,1.08),(2.15,1.0),(2.2,0.93),(2.22,1.1),(2.25,1.02),(2.3,0.95),(2.35,1.06),(2.4,0.97),(2.45,1.08),(2.5,0.95),(2.55,1.03),(2.6,0.98),(2.65,1.05),(2.7,0.96),(2.75,1.02),(2.8,0.98),(2.85,1.04),(2.9,0.97),(2.95,1.02),(3.0,0.99),(3.1,1.03),(3.2,0.97),(3.3,1.02),(3.4,0.99),(3.5,1.02),(3.6,0.985),(3.7,1.01),(3.8,0.99),(3.9,1.01),(4.0,0.995),(4.1,1.008),(4.2,0.993),(4.3,1.005),(4.4,0.997),(4.5,1.002),(1.15,1.35),(1.28,1.4),(1.48,1.35),(1.65,1.3),(1.4,0.8),(1.6,0.85),(2.08,1.2),(2.4,1.12),(1.9,0.85),(2.6,0.92),(1.1,1.1),(1.75,1.3),
            (1.22,1.1),(1.27,1.2),(1.33,1.05),(1.37,1.15),(1.43,0.95),(1.47,1.1),(1.53,1.0),(1.57,1.12),(1.63,0.97),(1.67,1.1),(1.73,1.02),(1.77,0.93),(1.83,1.08),(1.87,1.0),(1.93,0.95),(1.97,1.08),(2.03,1.0),(2.07,0.95),(2.13,1.05),(2.17,0.97),(2.23,1.03),(2.27,0.96),(2.33,1.02),(2.37,1.08),(2.43,0.96),(2.47,1.02),(2.53,0.98),(2.57,1.05),(2.63,0.97),(2.67,1.02),(2.73,0.99),(2.77,1.04),(2.83,0.97),(2.87,1.01),(2.93,0.98),(2.97,1.03),(3.05,0.98),(3.15,1.01),(3.25,0.99),(3.35,1.02),(3.45,0.98),(3.55,1.01),(3.65,0.995),(3.75,1.01),(3.85,0.99),(3.95,1.005),(4.05,0.99),(4.15,1.005),(4.25,0.995),(4.35,1.008),(4.45,0.995)]

# reference lines
a_hline, c_hline, b_hline, d_hline = 1.433, 1.43, 1.0, 1.0
a_vline, c_vline, b_vline, d_vline = 4.0, 2.6, 3.8, 2.0

# ---------------- figure ----------------
W, H = 1240, 651
FONT = "DejaVu Sans"
CI_FILL = "rgba(31,119,180,0.3)"


def P(x, y):
    return x / W, 1 - y / H


fig = go.Figure()


def add_panel(n, legend, red, blue, orange, up_x, up_y, lo_x, lo_y, eq_x, eq_y, mode_x, mode_y,
              bound=None, ci_name="", eq_name=""):
    xa, ya = ("x", "y") if n == 1 else (f"x{n}", f"y{n}")
    for pts, col, op in ((red, "#ff1010", 0.72), (blue, "#0a0aff", 0.75), (orange, "#ffa020", 0.8)):
        xs, ys = zip(*pts)
        fig.add_trace(go.Scatter(x=xs, y=ys, mode="markers", xaxis=xa, yaxis=ya, showlegend=False,
                                 marker=dict(size=4.6, color=col, opacity=op, line=dict(width=0)),
                                 hoverinfo="skip"))
    fig.add_trace(go.Scatter(x=up_x + lo_x[::-1], y=up_y + lo_y[::-1], fill="toself", mode="none",
                             fillcolor=CI_FILL, xaxis=xa, yaxis=ya, name=ci_name, legend=legend,
                             legendrank=2))
    if bound is not None:
        fig.add_trace(go.Scatter(x=bound[0], y=bound[1], mode="lines", xaxis=xa, yaxis=ya,
                                 line=dict(color="#b22f2f", width=2.5), name="upper bound <i>m\u0304</i>",
                                 legend=legend, legendrank=1))
    fig.add_trace(go.Scatter(x=eq_x, y=eq_y, mode="lines", xaxis=xa, yaxis=ya,
                             line=dict(color="#00ff00", width=3.5, shape="spline"), name=eq_name,
                             legend=legend, legendrank=3))
    fig.add_trace(go.Scatter(x=mode_x, y=mode_y, mode="lines", xaxis=xa, yaxis=ya,
                             line=dict(color="black", width=1.5), name="mode", legend=legend, legendrank=4))


add_panel(1, "legend", a_red, a_blue, a_orange, a_ci_up_x, a_ci_up_y, a_ci_lo_x, a_ci_lo_y,
          a_eq_x, a_eq_y, a_mode_x, a_mode_y, bound=(a_bound_x, a_bound_y),
          ci_name="95% CI of <i>m\u0304</i>", eq_name="equation 15")
add_panel(2, "legend2", c_red, c_blue, c_orange, c_ci_up_x, c_ci_up_y, c_ci_lo_x, c_ci_lo_y,
          c_eq_x, c_eq_y, c_mode_x, c_mode_y, bound=(c_bound_x, c_bound_y),
          ci_name="95% CI of <i>m\u0304</i>", eq_name="equation 15")
add_panel(3, "legend3", b_red, b_blue, b_orange, b_ci_up_x, b_ci_up_y, b_ci_lo_x, b_ci_lo_y,
          b_eq_x, b_eq_y, b_mode_x, b_mode_y, ci_name="95% CI of <i>b</i>", eq_name="equation 17")
add_panel(4, "legend4", d_red, d_blue, d_orange, d_ci_up_x, d_ci_up_y, d_ci_lo_x, d_ci_lo_y,
          d_eq_x, d_eq_y, d_mode_x, d_mode_y, ci_name="95% CI of <i>b</i>", eq_name="equation 17")

# plot-area pixel boxes: (left, right, top, bottom)
boxes = {1: (74.5, 615.5, 32.5, 275.5), 2: (695.5, 1239, 32.5, 275.5),
         3: (74.5, 615.5, 360, 603), 4: (694.5, 1239, 360, 603)}
xranges = {1: [-0.335, 7.035], 2: [-0.225, 4.725], 3: [-0.3, 7.03], 4: [-0.12, 4.72]}
yranges = {1: [1.0, 2.0], 2: [1.0, 2.0], 3: [0, 3.5], 4: [0, 3.5]}

axis_common = dict(showline=True, linecolor="#444", linewidth=1, mirror=True, ticks="inside",
                   ticklen=4, tickcolor="#444", showgrid=False, zeroline=False, automargin=False,
                   tickfont=dict(family=FONT, size=16.5, color="black"))
layout = {}
for n, (l, r, t, b) in boxes.items():
    xk = "xaxis" if n == 1 else f"xaxis{n}"
    yk = "yaxis" if n == 1 else f"yaxis{n}"
    xa = "x" if n == 1 else f"x{n}"
    ya = "y" if n == 1 else f"y{n}"
    layout[xk] = dict(axis_common, domain=[l / W, r / W], range=xranges[n], anchor=ya, dtick=1)
    yd = dict(axis_common, domain=[1 - b / H, 1 - t / H], range=yranges[n], anchor=xa)
    if n in (1, 2):
        yd.update(dtick=0.2, tickformat=".1f")
    else:
        yd.update(dtick=1)
    layout[yk] = yd
fig.update_layout(**layout)

# legends
leg_common = dict(bgcolor="rgba(255,255,255,0.85)", bordercolor="#cccccc", borderwidth=1,
                  font=dict(family=FONT, size=11.5, color="#222"), xanchor="right", yanchor="top",
                  tracegroupgap=0, itemwidth=30, traceorder="normal")
for key, (px_, py_) in {"legend": (607, 38), "legend2": (1234, 38),
                        "legend3": (607, 366), "legend4": (1234, 366)}.items():
    lx, ly = P(px_, py_)
    fig.update_layout({key: dict(leg_common, x=lx, y=ly)})

# reference lines
shapes = []
for n, hv, vv in ((1, a_hline, a_vline), (2, c_hline, c_vline), (3, b_hline, b_vline), (4, d_hline, d_vline)):
    xa = "x" if n == 1 else f"x{n}"
    ya = "y" if n == 1 else f"y{n}"
    shapes.append(dict(type="line", xref=f"{xa} domain", yref=ya, x0=0, x1=1, y0=hv, y1=hv,
                       line=dict(color="rgba(140,140,140,0.9)", width=1, dash="dot"), layer="below"))
    shapes.append(dict(type="line", xref=xa, yref=f"{ya} domain", x0=vv, x1=vv, y0=0, y1=1,
                       line=dict(color="#333", width=1.2, dash="dot"), layer="below"))
fig.update_layout(shapes=shapes)

# text annotations
ann = []


def text(px_, py_, s, size, angle=0, bold=False):
    x, y = P(px_, py_)
    ann.append(dict(x=x, y=y, xref="paper", yref="paper", text=f"<b>{s}</b>" if bold else s,
                    showarrow=False, textangle=angle, xanchor="center", yanchor="middle",
                    font=dict(family=FONT, size=size, color="black")))


text(345, 16, "mean magnitude of GR data", 20)
text(967, 16, "mean magnitude of MGR data", 20)
text(345, 345, "Aki <i>b</i>-value of GR data", 20)
text(967, 345, "Aki <i>b</i>-value of MGR data", 20)
for cx, cy in ((345, 308), (967, 308), (345, 637), (967, 637)):
    text(cx, cy, "dynamic range", 17)
text(33, 154, "mean magnitude", 17, angle=-90)
text(655, 154, "mean magnitude", 17, angle=-90)
text(46, 481, "Aki <i>b</i>-value", 17, angle=-90)
text(668, 481, "Aki <i>b</i>-value", 17, angle=-90)
text(18, 46, "a)", 18, bold=True)
text(18, 375, "b)", 18, bold=True)
text(639, 46, "c)", 18, bold=True)
text(640, 375, "d)", 18, bold=True)
fig.update_layout(annotations=ann)

fig.update_layout(width=W, height=H, autosize=False,
                  margin=dict(l=0, r=0, t=0, b=0, pad=0, autoexpand=False),
                  paper_bgcolor="white", plot_bgcolor="white", font=dict(family=FONT))

page_fix = (
    "var h=document.documentElement.style;h.margin='0';h.padding='0';h.overflow='hidden';"
    "var b=document.body.style;b.margin='0';b.padding='0';b.overflow='hidden';"
    "var g=document.getElementsByClassName('plotly-graph-div')[0];"
    "if(g){g.style.position='absolute';g.style.left='0px';g.style.top='0px';}"
)
fig.write_html("out.html", config={"displayModeBar": False}, post_script=page_fix)
